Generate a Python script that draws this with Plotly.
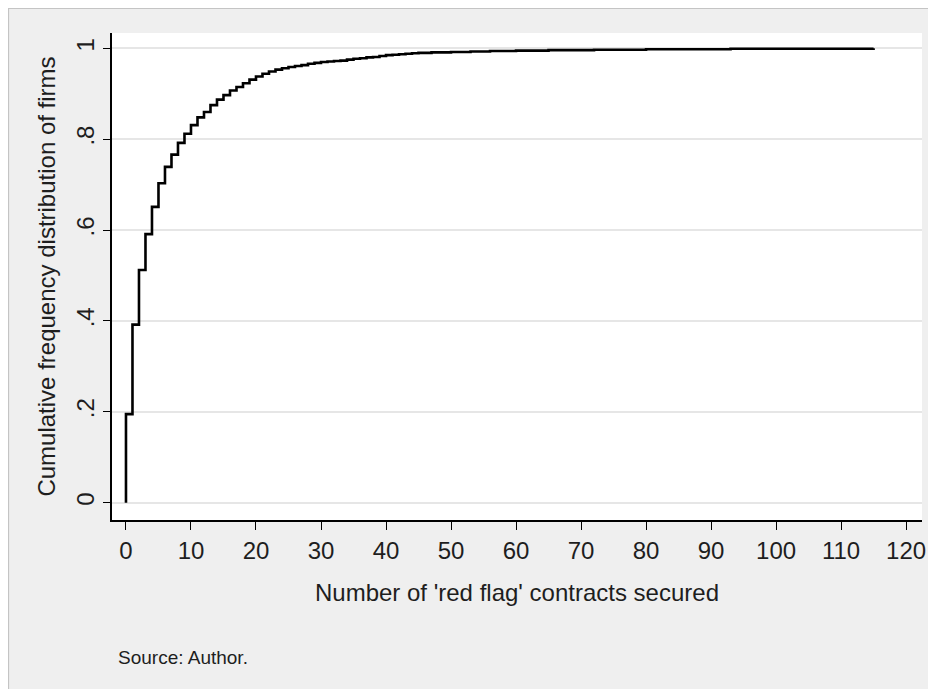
import plotly.graph_objects as go

# Number of 'red flag' contracts secured (step positions)
contracts = [0, 1, 2, 3, 4, 5, 6, 7, 8, 9, 10, 11, 12, 13, 14, 15, 16, 17, 18, 19,
             20, 21, 22, 23, 24, 25, 26, 27, 28, 29, 30, 31, 32, 33, 34, 35, 36, 37,
             38, 39, 40, 41, 42, 43, 44, 45, 47, 50, 53, 56, 60, 65, 72, 80, 93, 115]
# Cumulative frequency distribution of firms at each step
cum_freq = [0.195, 0.392, 0.512, 0.591, 0.651, 0.703, 0.739, 0.766, 0.792, 0.812,
            0.831, 0.848, 0.860, 0.875, 0.887, 0.897, 0.907, 0.915, 0.923, 0.931,
            0.938, 0.944, 0.949, 0.953, 0.956, 0.959, 0.961, 0.963, 0.966, 0.968,
            0.970, 0.971, 0.972, 0.973, 0.975, 0.977, 0.978, 0.980, 0.981, 0.983,
            0.985, 0.986, 0.987, 0.988, 0.989, 0.990, 0.991, 0.992, 0.993, 0.994,
            0.995, 0.996, 0.997, 0.998, 0.999, 1.000]

x_ticks = [0, 10, 20, 30, 40, 50, 60, 70, 80, 90, 100, 110, 120]
y_ticks = [0, 0.2, 0.4, 0.6, 0.8, 1.0]
y_tick_labels = ["0", ".2", ".4", ".6", ".8", "1"]

x_title = "Number of 'red flag' contracts secured"
y_title = "Cumulative frequency distribution of firms"
note = "Source: Author."

FONT = "Liberation Sans, Arial, Helvetica, sans-serif"
BG = "#efefef"
TXT = "#1e1e1e"

fig = go.Figure()
fig.add_trace(go.Scatter(
    x=[contracts[0]] + contracts,
    y=[0] + cum_freq,
    mode="lines",
    line=dict(shape="hv", color="black", width=2.6),
    hoverinfo="x+y",
    showlegend=False,
))

# the page body adds an 8px offset; figure coordinates below are page - 8
W, H = 936, 689
L, R, T, B = 104, 22, 25, 177
pw, ph = W - L - R, H - T - B


def px(xp):
    return (xp - L) / pw


def py(yp):
    return (H - B - yp) / ph


shapes = [
    dict(type="path", xref="paper", yref="paper",
         path=f"M {px(0.5)} {py(H + 2)} L {px(0.5)} {py(0.5)} L {px(W + 2)} {py(0.5)}",
         line=dict(color="#c4c4c4", width=1.2), layer="below"),
]

fig.update_layout(
    width=W, height=H,
    margin=dict(l=L, r=R, t=T, b=B),
    paper_bgcolor=BG,
    plot_bgcolor="white",
    font=dict(family=FONT, size=24, color=TXT),
    shapes=shapes,
    xaxis=dict(
        range=[-2.15, 122.45],
        tickmode="array", tickvals=x_ticks,
        ticks="outside", ticklen=8, tickwidth=1.3, tickcolor="black",
        showline=True, linecolor="black", linewidth=1.5,
        showgrid=False, zeroline=False,
        tickfont=dict(size=24, color=TXT),
        title=dict(text=x_title, font=dict(size=24, color=TXT), standoff=22),
    ),
    yaxis=dict(
        range=[-0.038, 1.0337],
        tickmode="array", tickvals=y_ticks, ticktext=y_tick_labels,
        tickangle=-90,
        ticks="outside", ticklen=7, tickwidth=1.3, tickcolor="black",
        showline=True, linecolor="black", linewidth=1.5,
        showgrid=True, gridcolor="#e6e6e6", gridwidth=1.6,
        zeroline=False,
        tickfont=dict(size=24, color=TXT),
        title=dict(text=y_title, font=dict(size=24, color=TXT), standoff=9),
    ),
    annotations=[
        dict(text=note, xref="paper", yref="paper", x=px(108), y=py(649),
             xanchor="left", yanchor="middle", showarrow=False,
             font=dict(size=19, color=TXT)),
    ],
)

fig.write_html("out.html")
